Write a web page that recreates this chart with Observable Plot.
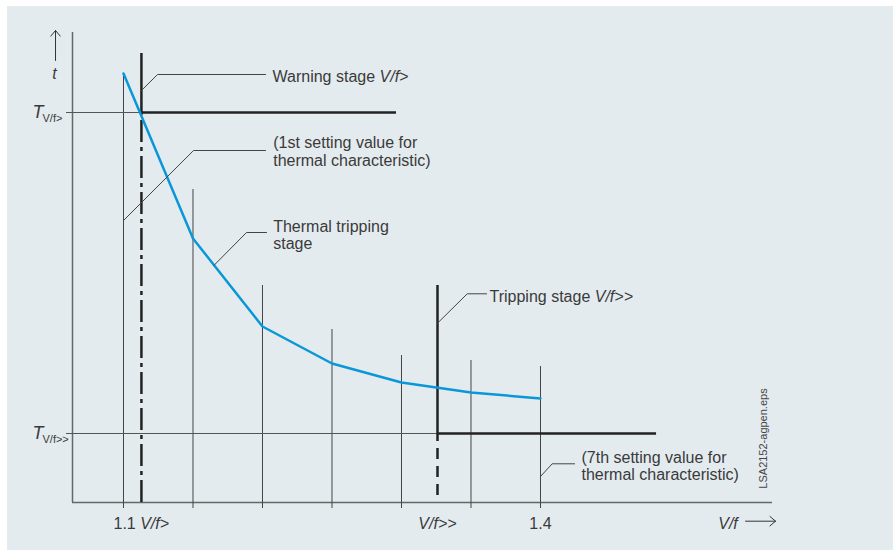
<!DOCTYPE html>
<html>
<head>
<meta charset="utf-8">
<script src="https://cdn.jsdelivr.net/npm/d3@7"></script>
<script src="https://cdn.jsdelivr.net/npm/@observablehq/plot@0.6"></script>
<style>
  body { margin: 0; background: #ffffff; }
  #chart svg { display: block; margin: 6px 0 0 7px; }
</style>
</head>
<body>
<div id="chart"></div>
<script>
// ---------- data ----------
// setting values of the thermal characteristic (V/f) and their tripping times t (arbitrary units)
const settingVf = [1.1, 1.15, 1.2, 1.25, 1.3, 1.35, 1.4];
const settingT  = [42.9, 26.4, 17.6, 13.9, 12.0, 11.0, 10.4];
// height up to which each setting-value line is drawn
const settingLineTop = [42.9, 31.3, 21.7, 17.3, 14.7, 14.2, 13.6];
// stages
const vfWarn = 1.1129;   // V/f>
const vfTrip = 1.3259;   // V/f>>
const tWarn = 39.0;      // T V/f>
const tTrip = 6.9;       // T V/f>>
const warnTop = 44.9, tripTop = 21.7;
const warnEnd = 1.2964, tripEnd = 1.4835;
const tLineStart = 1.059;
// tick labels
const firstTickLabel = ["1.1 V/f>"];
const firstTickX = 1.0928;
const midTickLabels = ["1.4"];
const midTickX = [1.4];
const italicTickLabels = ["V/f>>"];
const yLabels = [{t: tWarn, sub: "V/f>"}, {t: tTrip, sub: "V/f>>"}];
// annotations
const annoText = [
  "Warning stage V/f>",
  "(1st setting value for\nthermal characteristic)",
  "Thermal tripping\nstage",
  "Tripping stage V/f>>",
  "(7th setting value for\nthermal characteristic)"
];
const annoX = [1.2072, 1.2077, 1.2077, 1.3633, 1.4295];
const annoT = [42.6, 35.1, 26.75, 20.6, 3.67];
const leaders = [
  [[1.1129, 41.2], [1.1245, 42.8], [1.2022, 42.8]],
  [[1.1, 28.2], [1.1504, 35.2], [1.2022, 35.2]],
  [[1.165, 23.7], [1.1885, 27.0], [1.2029, 27.0]],
  [[1.3259, 17.93], [1.3473, 20.87], [1.3612, 20.87]],
  [[1.4, 2.6], [1.4084, 3.87], [1.4245, 3.87]]
];

// ---------- build tables ----------
const curve = settingVf.map((v, i) => ({v, t: settingT[i], top: settingLineTop[i]}));
const leaderPts = leaders.flatMap((pts, id) => pts.map(([x, t]) => ({id, x, t})));
const annos = annoText.map((text, i) => ({text, x: annoX[i], t: annoT[i]}));

const xDomain = [1.06331, 1.56691];
const font = "'Liberation Sans', Arial, sans-serif";
const ink = "#3a3a3a";
const fs = 16;

const chart = Plot.plot({
  width: 886,
  height: 544,
  marginLeft: 65,
  marginRight: 121,
  marginTop: 26,
  marginBottom: 48,
  x: {domain: xDomain, axis: null},
  y: {domain: [0, 47], axis: null},
  style: {background: "#e4ebef", fontFamily: font, color: ink},
  marks: [
    // axes
    Plot.ruleX([xDomain[0]], {stroke: "#666", strokeWidth: 1.5}),
    Plot.ruleY([0], {stroke: "#666", strokeWidth: 1.5}),
    // setting value verticals, extending 6px below the axis as ticks
    Plot.ruleX(curve, {x: "v", y1: "top", y2: 0, stroke: "#444", strokeWidth: 1, insetBottom: -6}),
    // T lines (thin part)
    Plot.ruleY([tWarn], {x1: tLineStart, x2: vfWarn, stroke: "#555", strokeWidth: 1}),
    Plot.ruleY([tTrip], {x1: tLineStart, x2: vfTrip, stroke: "#555", strokeWidth: 1}),
    // warning stage
    Plot.ruleX([vfWarn], {y1: tWarn, y2: warnTop, stroke: "#222", strokeWidth: 2.5}),
    Plot.ruleX([vfWarn], {y1: 0, y2: tWarn, stroke: "#222", strokeWidth: 2.5, strokeDasharray: "22,5,4,5"}),
    Plot.ruleY([tWarn], {x1: vfWarn, x2: warnEnd, stroke: "#222", strokeWidth: 2.5}),
    // tripping stage
    Plot.ruleX([vfTrip], {y1: tTrip, y2: tripTop, stroke: "#222", strokeWidth: 2.5}),
    Plot.ruleX([vfTrip], {y1: 0, y2: tTrip, stroke: "#222", strokeWidth: 2.5, strokeDasharray: "11,7", strokeDashoffset: 11}),
    Plot.ruleY([tTrip], {x1: vfTrip, x2: tripEnd, stroke: "#222", strokeWidth: 2.5}),
    // thermal characteristic
    Plot.line(curve, {x: "v", y: "t", stroke: "#0a97d9", strokeWidth: 2.5}),
    // leader lines
    Plot.line(leaderPts, {x: "x", y: "t", z: "id", stroke: "#444", strokeWidth: 1}),
    // annotations
    Plot.text(annos, {x: "x", y: "t", text: "text", textAnchor: "start", fontSize: fs, lineHeight: 1.07, fill: ink, fontFamily: font}),
    // x tick labels
    Plot.text(firstTickLabel, {x: firstTickX, y: -2.1, text: d => d, textAnchor: "start", fontSize: fs, fill: ink, fontFamily: font}),
    Plot.text(midTickLabels, {x: (d, i) => midTickX[i], y: -2.1, text: d => d, fontSize: fs, fill: ink, fontFamily: font}),
    Plot.text(italicTickLabels, {x: vfTrip, y: -2.1, text: d => d, fontStyle: "italic", fontSize: fs, fill: ink, fontFamily: font}),
    Plot.text(["V/f"], {x: 1.5349, y: -2.1, text: d => d, fontStyle: "italic", fontSize: fs, fill: ink, fontFamily: font}),
    Plot.arrow([0], {x1: 1.5475, x2: 1.5691, y1: -1.87, y2: -1.87, stroke: "#333", strokeWidth: 1, headLength: 11, headAngle: 80}),
    // y labels
    Plot.text(["t"], {x: 1.0504, y: 42.9, text: d => d, fontStyle: "italic", fontSize: fs, fill: ink, fontFamily: font}),
    Plot.arrow([0], {x1: 1.0511, x2: 1.0511, y1: 44.2, y2: 47.2, stroke: "#333", strokeWidth: 1, headLength: 11, headAngle: 80}),
    Plot.text(yLabels, {x: 1.03453, y: "t", text: () => "T", textAnchor: "start", fontStyle: "italic", fontSize: 18, fill: ink, fontFamily: font}),
    Plot.text(yLabels, {x: 1.03453, y: "t", text: "sub", textAnchor: "start", dx: 10, dy: 6, fontSize: 11, fill: ink, fontFamily: font}),
    // file tag
    Plot.text(["LSA2152-agpen.eps"], {x: 1.5604, y: 6.4, text: d => d, rotate: -90, fontSize: 11, fill: "#444", fontFamily: font})
  ]
});

// italicise the V/f> parts of mixed labels
chart.querySelectorAll("text").forEach(el => {
  if (el.children.length === 0) {
    const m = el.textContent.match(/^(.*\s)(V\/f>+)$/);
    if (m) {
      el.textContent = m[1];
      const ts = document.createElementNS("http://www.w3.org/2000/svg", "tspan");
      ts.setAttribute("font-style", "italic");
      ts.textContent = m[2];
      el.appendChild(ts);
    }
  }
});

document.getElementById("chart").appendChild(chart);
</script>
</body>
</html>
